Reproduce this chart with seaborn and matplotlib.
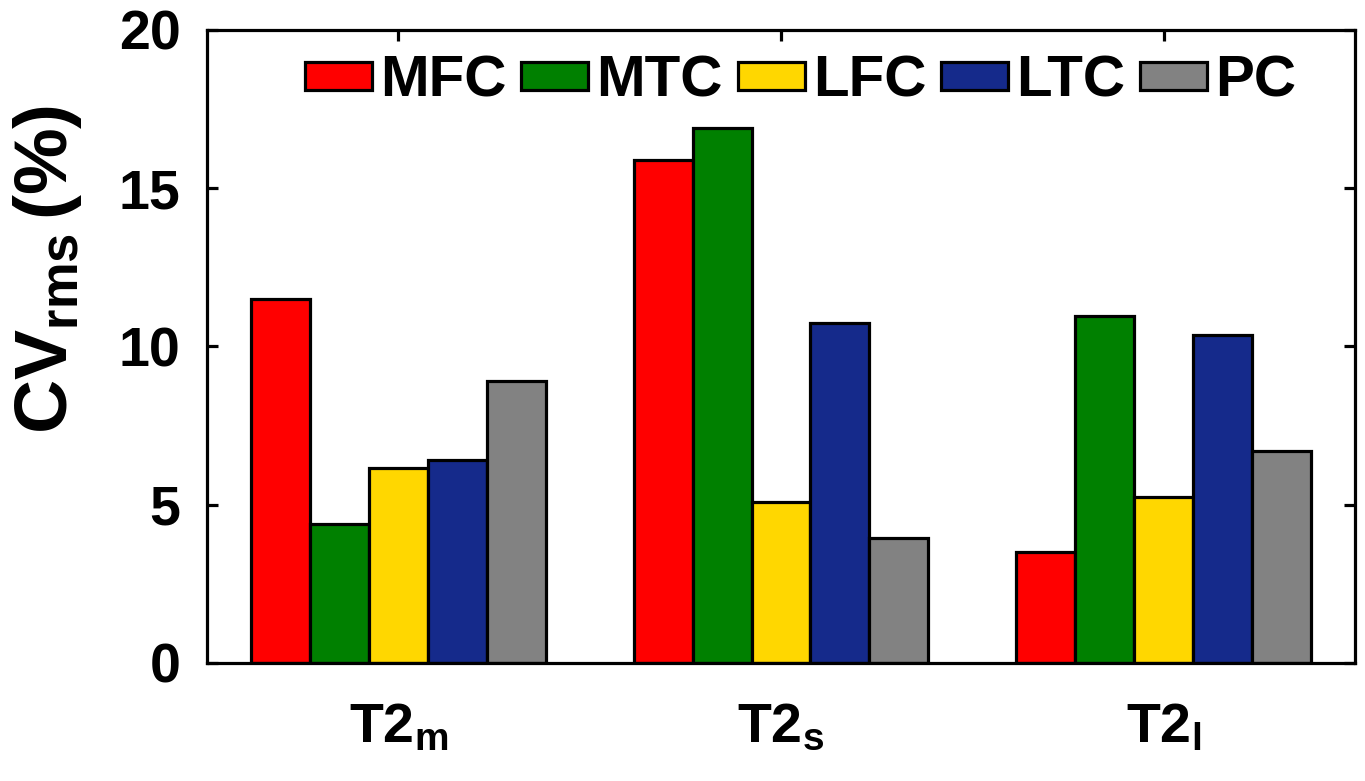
import matplotlib
matplotlib.use("Agg")
import matplotlib.pyplot as plt
import seaborn as sns
import pandas as pd

# Data: RMS coefficient of variation per cartilage region
measures = ["T2m", "T2s", "T2l"]
tick_labels = [r"$\mathbf{T2_m}$", r"$\mathbf{T2_s}$", r"$\mathbf{T2_l}$"]
regions = ["MFC", "MTC", "LFC", "LTC", "PC"]
mfc = [11.5, 15.9, 3.5]
mtc = [4.4, 16.9, 10.95]
lfc = [6.15, 5.1, 5.25]
ltc = [6.4, 10.75, 10.35]
pc = [8.9, 3.95, 6.7]
colors = ["#ff0000", "#008000", "#ffd700", "#152a8b", "#828282"]

series = {"MFC": mfc, "MTC": mtc, "LFC": lfc, "LTC": ltc, "PC": pc}
rows = []
for reg in regions:
    for m, v in zip(measures, series[reg]):
        rows.append({"measure": m, "region": reg, "cv": v})
df = pd.DataFrame(rows)

sns.set_style("ticks")
plt.rcParams["font.family"] = ["Liberation Sans", "DejaVu Sans"]
plt.rcParams["font.weight"] = "bold"
plt.rcParams["mathtext.fontset"] = "custom"
plt.rcParams["mathtext.rm"] = "Liberation Sans:bold"
plt.rcParams["mathtext.bf"] = "Liberation Sans:bold"
plt.rcParams["mathtext.it"] = "Liberation Sans:bold"
for key in ["text.color", "axes.labelcolor", "xtick.color", "ytick.color",
            "axes.edgecolor"]:
    plt.rcParams[key] = "black"

fig = plt.figure(figsize=(13.65, 7.81), dpi=100)
ax = fig.add_axes([0.1516, 0.1511, 0.8411, 0.8105])

sns.barplot(data=df, x="measure", y="cv", hue="region", order=measures,
            hue_order=regions, palette=colors, width=0.77, gap=0,
            edgecolor="black", linewidth=2.3, saturation=1, ax=ax)

ax.set_xlim(-0.5, 2.5)
ax.set_ylim(0, 20)
ax.set_yticks([0, 5, 10, 15, 20])
ax.set_yticklabels(["0", "5", "10", "15", "20"], fontsize=40, fontweight="bold")
ax.set_xticks(range(len(measures)))
ax.set_xticklabels(tick_labels, fontsize=40)
ax.set_xlabel("")
ax.set_ylabel(r"CV$_{\mathbf{rms}}\,$(%)", fontsize=54, fontweight="bold")
ax.yaxis.set_label_coords(-0.107, 0.622)

for side in ["top", "right", "left", "bottom"]:
    ax.spines[side].set_visible(True)
    ax.spines[side].set_linewidth(2.3)
ax.tick_params(direction="in", length=8, width=2.3, top=True, right=True)
ax.tick_params(axis="y", pad=19)
ax.tick_params(axis="x", pad=28)

handles, labels = ax.get_legend_handles_labels()
ax.legend(handles, labels, ncol=5, loc="center",
          bbox_to_anchor=(0.517, 0.918), frameon=False,
          prop={"size": 42, "weight": "bold"},
          handlelength=1.15, handleheight=0.38, handletextpad=0.14,
          columnspacing=0.25, borderaxespad=0.0)

fig.savefig("out.png", dpi=100, facecolor="white")
